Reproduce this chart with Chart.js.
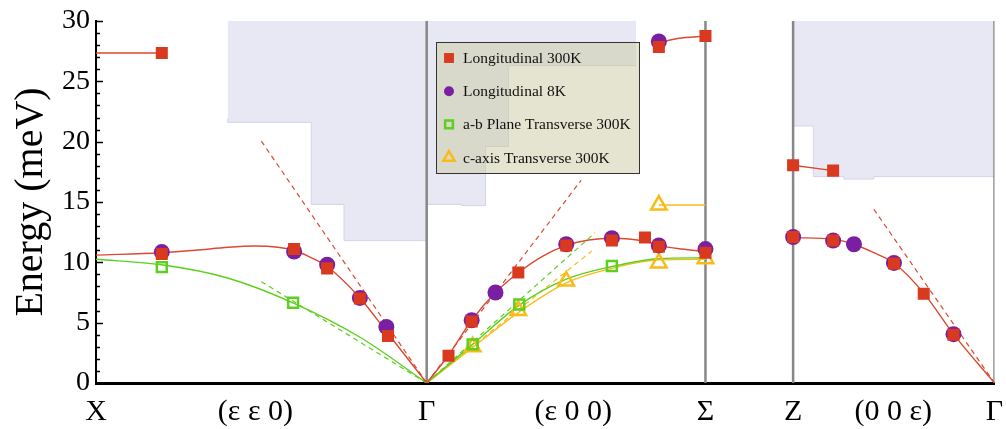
<!DOCTYPE html>
<html><head><meta charset="utf-8">
<script src="https://cdn.jsdelivr.net/npm/chart.js@4.4.1/dist/chart.umd.min.js"></script>
<style>html,body{margin:0;padding:0;background:#fff;} #wrap{width:1006px;height:429px;}</style>
</head><body><div id="wrap"><canvas id="c" width="1006" height="429"></canvas></div>
<script>
// ---------- axis / tick data ----------
const xTickPos = [0, 48.2, 100, 144.3, 184.3, 210.8, 241.1, 271.7];
const xTickLabels = ['X', '(ε ε 0)', 'Γ', '(ε 0 0)', 'Σ', 'Z', '(0 0 ε)', 'Γ'];
const yTickValues = [0, 5, 10, 15, 20, 25, 30];
const boundaryX = [100, 184.3, 210.8, 271.7];
const seriesNames = ['Longitudinal 300K', 'Longitudinal 8K', 'a-b Plane Transverse 300K', 'c-axis Transverse 300K'];

// ---------- measured points ----------
const long300X = [19.9, 19.9, 59.9, 69.9, 79.8, 88.3, 106.6, 113.6, 127.7, 142.2, 156.0, 166.0, 170.2, 170.2, 184.3, 184.3, 210.8, 222.9, 210.8, 222.9, 241.3, 250.3, 259.3];
const long300E = [27.35, 10.7, 11.1, 9.5, 7.0, 3.9, 2.25, 5.1, 9.15, 11.4, 11.8, 12.05, 11.3, 27.85, 28.75, 10.8, 18.05, 17.6, 12.1, 11.8, 9.9, 7.4, 4.0];

const long8X = [19.9, 59.9, 69.9, 79.8, 87.8, 113.6, 120.8, 142.2, 156.0, 170.2, 170.2, 184.3, 210.8, 222.9, 229.2, 241.3, 259.3];
const long8E = [10.85, 10.9, 9.8, 7.05, 4.65, 5.2, 7.5, 11.5, 12.0, 11.4, 28.3, 11.1, 12.1, 11.8, 11.5, 9.95, 4.05];

const transABX = [19.9, 59.6, 113.9, 128.0, 156.0];
const transABE = [9.6, 6.65, 3.2, 6.5, 9.7];

const transCX = [113.9, 127.7, 142.2, 170.2, 170.2, 184.3];
const transCE = [3.0, 6.0, 8.45, 9.95, 14.75, 10.3];

// ---------- fitted curves ----------
const redXG_X = [0, 19.9, 30, 40, 48, 55, 59.9, 65, 69.9, 79.8, 88.3, 100];
const redXG_E = [10.6, 10.8, 11.0, 11.25, 11.35, 11.25, 11.0, 10.4, 9.65, 7.05, 4.1, 0];
const redXTop_X = [0, 19.9];
const redXTop_E = [27.35, 27.35];
const grnXG_X = [0, 19.9, 39.8, 59.9, 80.1, 100];
const grnXG_E = [10.25, 9.8, 8.7, 6.6, 3.75, 0];

const redGS_X = [100, 106.6, 113.6, 120.8, 128.0, 135, 142.2, 149, 156.0, 166.0, 170.2, 177, 184.3];
const redGS_E = [0, 2.3, 5.2, 7.5, 9.2, 10.5, 11.4, 11.85, 12.0, 11.75, 11.4, 11.1, 10.9];
const redSTop_X = [170.2, 175.9, 184.3];
const redSTop_E = [28.2, 28.55, 28.75];
const grnGS_X = [100, 113.9, 128, 142.2, 156, 170.2, 184.3];
const grnGS_E = [0, 3.2, 6.45, 8.6, 9.65, 10.3, 10.38];
const ylwGS_X = [100, 113.9, 128, 142.2, 156, 170.2, 184.3];
const ylwGS_E = [0, 2.95, 5.9, 8.3, 9.5, 10.2, 10.25];
const ylwSTop_X = [170.2, 184.3];
const ylwSTop_E = [14.75, 14.75];

const redZTop_X = [210.8, 222.9];
const redZTop_E = [18.05, 17.6];
const redZG_X = [210.8, 222.9, 229.2, 235.2, 241.3, 250.3, 259.3, 271.7];
const redZG_E = [12.05, 11.9, 11.5, 10.8, 9.95, 7.45, 4.05, 0];

// ---------- dashed slopes ----------
const dashRedXG_X = [50, 100], dashRedXG_E = [20.05, 0];
const dashGrnXG_X = [50, 100], dashGrnXG_E = [8.4, 0];
const dashRedGS_X = [100, 146.7], dashRedGS_E = [0, 16.8];
const dashGrnGS_X = [100, 150.9], dashGrnGS_E = [0, 12.45];
const dashYlwGS_X = [100, 150.0], dashYlwGS_E = [0, 10.95];
const dashRedZG_X = [235.2, 271.7], dashRedZG_E = [14.4, 0];

// ---------- shaded regions (lower edges, stepped) ----------
const shade1X = [39.8, 65.1, 75.0, 84.3, 100];
const shade1E = [21.9, 21.6, 14.8, 11.8, 11.8];
const shade2X = [100, 110.5, 117.8, 124.7, 142.2, 163.3];
const shade2E = [10.0, 14.8, 14.7, 19.6, 26.3, 26.3];
const shade3X = [210.8, 216.9, 226.2, 235.2, 246.1, 271.7];
const shade3E = [23.3, 21.3, 17.1, 16.9, 17.1, 17.1];

// ---------- styling ----------
const RED = '#d9391f', RED_LINE = '#db4a30', PURPLE = '#7a1fa1', GREEN = '#5ccf1f', YELLOW = '#f8bb17', GREY = '#878787';
const FONT = "'Liberation Serif', 'DejaVu Serif', serif";
Chart.defaults.font.family = FONT;

const pts = (xs, ys) => xs.map((x, i) => ({x: x, y: ys[i]}));

const curve = (xs, ys, color, dashed) => ({
  data: pts(xs, ys), showLine: true, pointRadius: 0, borderColor: color,
  borderWidth: dashed ? 1.2 : 1.4, borderDash: dashed ? [5, 4] : [],
  tension: dashed ? 0 : 0.4, cubicInterpolationMode: dashed ? 'default' : 'monotone',
  fill: false, order: dashed ? 11 : 10
});
const shade = (xs, ys) => ({
  data: pts(xs, ys), showLine: true, pointRadius: 0, stepped: 'after',
  fill: 'end', backgroundColor: '#e8e8f4', borderColor: '#d4d4e8', borderWidth: 1, order: 30
});

const datasets = [
  {label: seriesNames[0], data: pts(long300X, long300E), pointStyle: 'rect', pointRadius: 8.5, backgroundColor: RED, borderWidth: 0, order: 0},
  {label: seriesNames[1], data: pts(long8X, long8E), pointStyle: 'circle', pointRadius: 8, backgroundColor: PURPLE, borderWidth: 0, order: 1},
  {label: seriesNames[2], data: pts(transABX, transABE), pointStyle: 'rect', pointRadius: 7, backgroundColor: 'rgba(0,0,0,0)', borderColor: GREEN, borderWidth: 2.5, order: 2},
  {label: seriesNames[3], data: pts(transCX, transCE), pointStyle: 'triangle', pointRadius: 9, backgroundColor: 'rgba(0,0,0,0)', borderColor: YELLOW, borderWidth: 2.5, order: 3},
  curve(redXG_X, redXG_E, RED_LINE), curve(redXTop_X, redXTop_E, RED_LINE), curve(grnXG_X, grnXG_E, GREEN),
  curve(redGS_X, redGS_E, RED_LINE), curve(redSTop_X, redSTop_E, RED_LINE), curve(grnGS_X, grnGS_E, GREEN),
  curve(ylwGS_X, ylwGS_E, YELLOW), curve(ylwSTop_X, ylwSTop_E, YELLOW),
  curve(redZTop_X, redZTop_E, RED_LINE), curve(redZG_X, redZG_E, RED_LINE),
  curve(dashRedXG_X, dashRedXG_E, RED_LINE, true), curve(dashGrnXG_X, dashGrnXG_E, GREEN, true),
  curve(dashRedGS_X, dashRedGS_E, RED_LINE, true), curve(dashGrnGS_X, dashGrnGS_E, GREEN, true),
  curve(dashYlwGS_X, dashYlwGS_E, YELLOW, true), curve(dashRedZG_X, dashRedZG_E, RED_LINE, true),
  shade(shade1X, shade1E), shade(shade2X, shade2E), shade(shade3X, shade3E)
].concat(boundaryX.map(b => ({
  data: [{x: b, y: 0}, {x: b, y: 30}], showLine: true, pointRadius: 0,
  borderColor: GREY, borderWidth: 2.5, order: 20
})));

const legendMarks = [
  {pointStyle: 'rect', radius: 7, fill: RED, stroke: null},
  {pointStyle: 'circle', radius: 5, fill: PURPLE, stroke: null},
  {pointStyle: 'rect', radius: 5.5, fill: null, stroke: GREEN},
  {pointStyle: 'triangle', radius: 6.5, fill: null, stroke: YELLOW}
];

const boxLegend = {
  id: 'boxLegend',
  afterDraw(chart) {
    const ctx = chart.ctx, a = chart.chartArea;
    const x0 = a.left + 340, y0 = a.top + 21, w = 204, h = 132;
    ctx.save();
    ctx.fillStyle = 'rgba(201,201,161,0.5)';
    ctx.fillRect(x0, y0, w, h);
    ctx.strokeStyle = '#333';
    ctx.lineWidth = 1;
    ctx.strokeRect(x0 + 0.5, y0 + 0.5, w - 1, h - 1);
    seriesNames.forEach((name, i) => {
      const cy = y0 + 16 + i * 33.2;
      const m = legendMarks[i];
      ctx.fillStyle = m.fill || 'rgba(0,0,0,0)';
      ctx.strokeStyle = m.stroke || 'rgba(0,0,0,0)';
      ctx.lineWidth = 2.5;
      Chart.helpers.drawPoint(ctx, {pointStyle: m.pointStyle, radius: m.radius, rotation: 0, borderWidth: m.stroke ? 2.5 : 0}, x0 + 13, cy);
      ctx.fillStyle = '#111';
      ctx.font = '15.5px ' + FONT;
      ctx.textBaseline = 'middle';
      ctx.textAlign = 'left';
      ctx.fillText(name, x0 + 27, cy + 1);
    });
    ctx.restore();
  }
};

const inwardTicks = {
  id: 'inwardTicks',
  afterDatasetsDraw(chart) {
    const ctx = chart.ctx, ys = chart.scales.y, left = chart.chartArea.left;
    ctx.save();
    ctx.strokeStyle = '#000';
    ctx.lineWidth = 1.5;
    for (let v = ys.min; v <= ys.max; v += 1) {
      const py = Math.round(ys.getPixelForValue(v)) + 0.5;
      const len = (v % 5 === 0) ? 7 : 4;
      ctx.beginPath(); ctx.moveTo(left, py); ctx.lineTo(left + len, py); ctx.stroke();
    }
    ctx.restore();
  }
};

new Chart(document.getElementById('c'), {
  type: 'scatter',
  data: {datasets: datasets},
  plugins: [inwardTicks, boxLegend],
  options: {
    responsive: false, animation: false, devicePixelRatio: 1,
    layout: {padding: {left: 0, right: 8, top: 21, bottom: 0}},
    plugins: {legend: {display: false}, tooltip: {enabled: false}},
    scales: {
      x: {
        type: 'linear', min: 0, max: 271.7,
        afterBuildTicks: s => { s.ticks = xTickPos.map(v => ({value: v})); },
        afterFit: s => { s.height = 46; s.paddingLeft = 0; s.paddingRight = 0; },
        ticks: {autoSkip: false, maxRotation: 0, minRotation: 0, padding: 11, color: '#000',
          font: {size: 30}, callback: (v, i) => xTickLabels[i]},
        grid: {color: 'rgba(0,0,0,0)', drawTicks: false},
        border: {color: '#000', width: 3}
      },
      y: {
        min: 0, max: 30,
        afterBuildTicks: s => { s.ticks = yTickValues.map(v => ({value: v})); },
        afterFit: s => { s.width = 96; s.paddingTop = 0; s.paddingBottom = 0; },
        ticks: {padding: 6, color: '#000', font: {size: 28}},
        grid: {color: 'rgba(0,0,0,0)', drawTicks: false},
        border: {color: '#000', width: 2},
        title: {display: true, text: 'Energy (meV)', color: '#000', font: {size: 40}, padding: {top: 7, bottom: 0}}
      }
    }
  }
});
</script></body></html>
